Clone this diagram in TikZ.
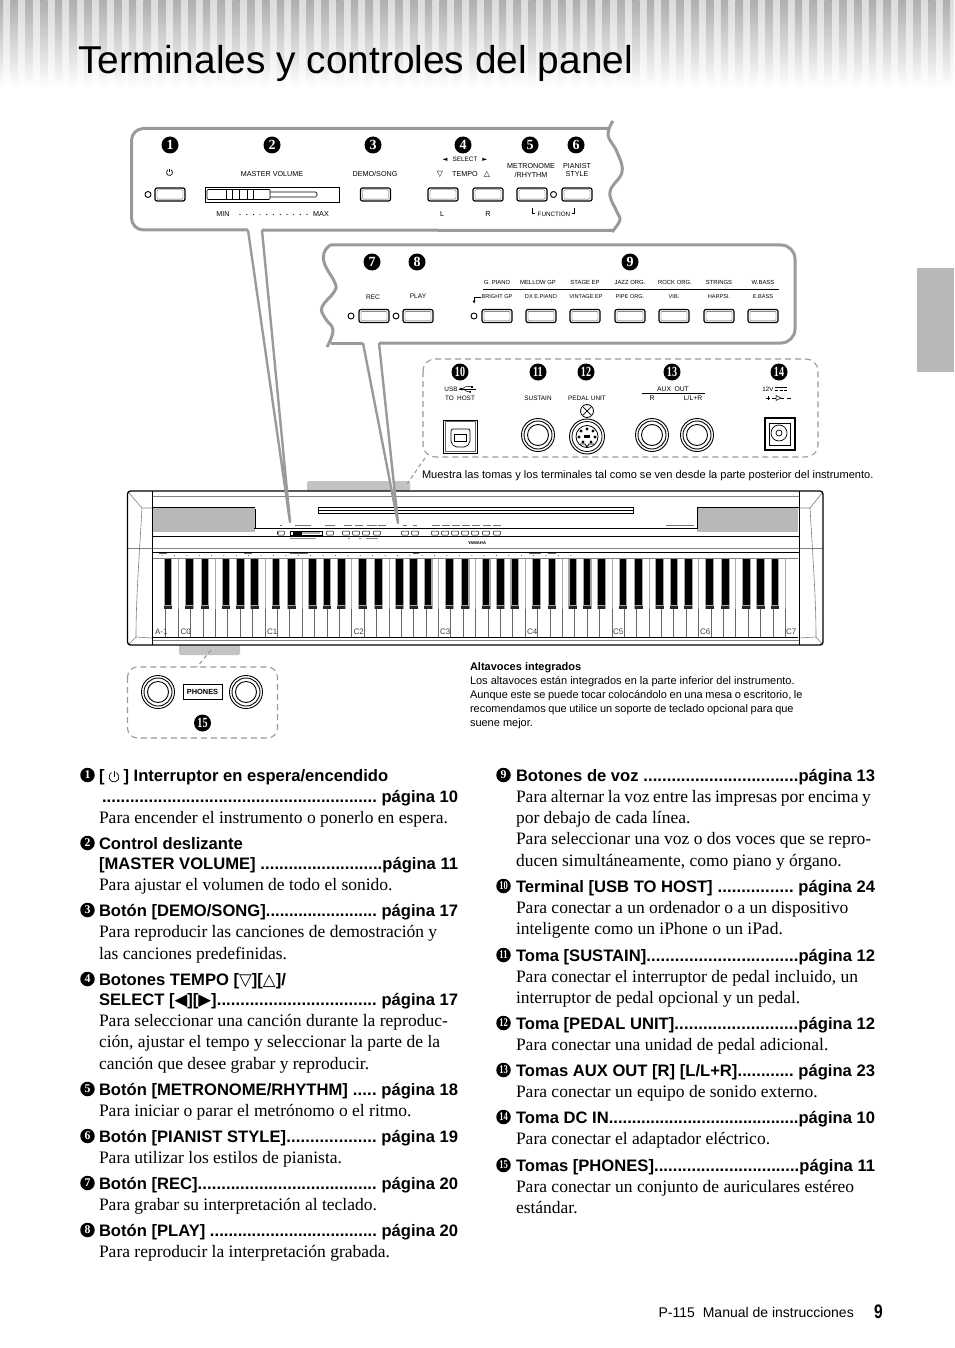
\documentclass[tikz,border=0pt]{standalone}
\usepackage{fontspec}
\setmainfont{Liberation Serif}
\setsansfont{Liberation Sans}
\newfontfamily\djv{DejaVu Sans}
\usetikzlibrary{calc}
\definecolor{stripeL}{HTML}{DCDCDC}
\definecolor{stripeD}{HTML}{AEAEAE}
\definecolor{panelgray}{HTML}{9A9A9A}
\definecolor{tabgray}{HTML}{B8B8B8}
\definecolor{keyline}{HTML}{AAAAAA}
\newcount\nn
\def\nx{\global\advance\nn by 1 }
\tikzset{
  txt/.style={inner sep=0pt,outer sep=0pt,anchor=base west,text=black},
  ctr/.style={inner sep=0pt,outer sep=0pt,anchor=center,text=black},
  panelline/.style={draw=panelgray,line width=3pt,line join=round},
  dashbox/.style={draw=panelgray,line width=1.1pt,dash pattern=on 6pt off 4pt},
  thinbk/.style={draw=black,line width=.7pt},
  pianoline/.style={draw=black,line width=.8pt},
  pianogray/.style={draw=gray,line width=.6pt},
  numdot/.style={circle,fill=black,text=white,inner sep=0pt,outer sep=0pt,font=\bfseries\rmfamily}
}
% texts
\newcommand{\Tt}[4]{\nx\node[txt] (t\the\nn) at (#1,{#2}) {\fontsize{#3}{#3}\selectfont #4};}
\newcommand{\Cc}[3]{\nx\node[ctr] (c\the\nn) at (#1,#2) {\sffamily\fontsize{7.2}{7.2}\selectfont #3};}
\newcommand{\Bd}[3]{\nx\node[txt] (b\the\nn) at (#1,{#2+6}) {\fontsize{17.5}{17.5}\selectfont #3};}
\newcommand{\Hn}[3]{\nx\node[txt] (h\the\nn) at (#1,{#2+6}) {\sffamily\bfseries\fontsize{16.6}{16.6}\selectfont #3};}
\newcommand{\Hd}[5]{\nx\node[txt] (h\the\nn) at (#1,{#3+6}) {\sffamily\bfseries\fontsize{16.6}{16.6}\selectfont\hbox to \dimexpr #2pt-#1pt\relax{#4\xleaders\hbox{.}\hfill#5}};}
\newcommand{\ND}[3]{\nx\node[numdot,minimum size=17pt] (n\the\nn) at (#1,#2) {\fontsize{14}{14}\selectfont #3};}
\newcommand{\NL}[3]{\nx\node[numdot,minimum size=14.5pt] (n\the\nn) at (#1,#2) {\fontsize{11.8}{11.8}\selectfont #3};}
\newcommand{\two}[1]{\scalebox{.72}[1]{#1}}
% shapes
\newcommand{\btn}[2]{%
  \draw[black,line width=1.2pt,rounded corners=2pt] ({#1-15},{#2-6.5}) rectangle ({#1+15},{#2+6.5});
  \draw[black!70,line width=.4pt,rounded corners=1pt] ({#1-13},{#2-4.7}) rectangle ({#1+13},{#2+4.7});}
\newcommand{\led}[2]{\draw[black,line width=.9pt,fill=white] (#1,#2) circle[radius=3pt];}
\newcommand{\jack}[2]{%
  \draw[black,line width=.9pt] (#1,#2) circle[radius=16.5pt];
  \draw[black,line width=.9pt] (#1,#2) circle[radius=14pt];
  \draw[black,line width=.9pt] (#1,#2) circle[radius=10.5pt];}
\newcommand{\pwr}[3]{%
  \draw[black,line width=.7pt] ({#1+.5*#3},{#2-.866*#3}) arc[start angle=60,end angle=-240,radius=#3 pt];
  \draw[black,line width=.7pt] (#1,{#2-1.2*#3}) -- (#1,{#2-.1*#3});}
\newcommand{\minibtn}[2]{\draw[black,line width=.5pt,rounded corners=.5pt] ({#1-3.3},531) rectangle ({#1+3.3},#2);}
\newcommand{\blackkey}[1]{%
  \fill[gray!70] ({#1-4.4},558) rectangle ({#1+4.4},609);
  \fill[black] ({#1-3.3},558) rectangle ({#1+3.3},604.5);
  \fill[black!85] ({#1-3.9},605.5) rectangle ({#1+3.9},609);}
\begin{document}
\begin{tikzpicture}[x=1pt,y=-1pt]
\useasboundingbox (0,0) rectangle (954,1348);
\fill[white] (0,0) rectangle (954,1348);
% header band
\shade[top color=stripeL,bottom color=white] (0,0) rectangle (954,88);
\foreach \i in {0,...,64}{
  \shade[top color=stripeD,bottom color=white] ({-4.3+14.8*\i},0) rectangle ({3+14.8*\i},88);
}
\Tt{78}{74}{38.85}{\sffamily Terminales y controles del panel}
% side tab
\fill[tabgray] (917,268) rectangle (954,372);
% tabs behind piano
\fill[tabgray!85,rounded corners=2pt] (307,492) -- (307,481) -- (410,481) -- (410,492) -- cycle;
\fill[tabgray!85,rounded corners=2pt] (179,644) -- (179,655) -- (240,655) -- (240,644) -- cycle;
% piano body
\fill[white] (127.5,491) rectangle (823,645);
\fill[tabgray] (153,508) rectangle (255,532);
\fill[tabgray] (697,508) rectangle (798,532);
% keys
\foreach \i in {1,...,51}{
  \draw[keyline,line width=.8pt] ({153.5+12.39*\i},558) -- ({153.5+12.39*\i},609);
  \draw[black!60,line width=.8pt] ({153.5+12.39*\i},609) -- ({153.5+12.39*\i},637);
}
\blackkey{168}
\foreach \o in {0,...,6}{\foreach \d in {10.99,26.68,47.66,61.95,76.34}{
  \blackkey{178.3+86.73*\o+\d}
}}
\draw[pianogray] (153,558) -- (798,558);
\draw[pianogray] (152,496) -- (799,496);
\draw[pianogray] (127.5,548) -- (823,548);
\draw[pianogray] (152,640) -- (799,640);
\draw[pianoline] (152,552) -- (799,552);
\draw[pianoline] (152,536) -- (799,536);
\draw[black,line width=1pt] (153,637) -- (798,637);
\draw[black,line width=1.6pt] (254,528.5) -- (697,528.5);
\draw[pianoline] (152,507) -- (255,507);
\draw[pianoline] (697,507) -- (799,507);
\draw[pianoline,fill=white] (318,507.5) rectangle (633,513);
\draw[black,line width=.5pt] (318,510) -- (633,510);
\draw[pianoline] (255,509) -- (255,529);
\draw[pianoline] (697,508) -- (697,529);
% cheeks
\draw[pianogray] (129,493) -- (142,508) -- (152,508);
\draw[pianogray] (142,508) .. controls (139,560) and (136,600) .. (136,637) -- (152,638);
\draw[pianogray] (136,637) -- (129,644);
\draw[pianogray] (822,493) -- (810,508) -- (799,508);
\draw[pianogray] (810,508) .. controls (813,560) and (816,600) .. (816,637) -- (799,638);
\draw[pianogray] (816,637) -- (822,644);
% outer frame
\draw[black,line width=1.3pt,rounded corners=3pt] (127.5,491) rectangle (823,645);
\draw[black,line width=.9pt] (152,491) -- (152,645);
\draw[black,line width=.9pt] (799,491) -- (799,645);
% mini panel
\minibtn{281}{535}\minibtn{330}{535}
\draw[black,line width=.4pt] (278,533) circle[radius=.7pt];
\draw[black,line width=.5pt] (290,531) rectangle (322,535);
\fill[black] (293,531.5) rectangle (302,534.5);
\fill[gray!60] (302,532) rectangle (320,534);
\foreach \p in {346,356,366,377,405,415,435,445,455,465,475,486,497}{\minibtn{\p}{535}}
\foreach \p/\w in {281/1,303/8,330/5,348/4,359/4,372/5,382/4,405/2,415/2,436/4,446/4,456/4,466/4,476/4,487/4,497/4,680/14}{
  \draw[black!55,line width=.9pt] ({\p-\w},525.5) -- ({\p+\w},525.5);
}
\foreach \p/\w in {303/13,349/1,360/1,372/6}{
  \draw[black!45,line width=.7pt] ({\p-\w},538) -- ({\p+\w},538);
}
\Tt{468}{544.5}{4.2}{\sffamily\bfseries YAMAHA}
\foreach \i in {0,...,33}{\fill[black!70] ({162+12.39*\i},555.5) circle[radius=.5pt];}
\foreach \p/\w in {163/4,248/4,299/9,416/3,535/6,552/4}{
  \draw[black!60,line width=.8pt] ({\p-\w},553.5) -- ({\p+\w},553.5);
}
% key labels
\foreach \p/\s in {155/A-1,180.5/C0,267/C1,353.5/C2,440/C3,527/C4,613/C5,700/C6,786/C7}{
  \nx\node[txt] (k\the\nn) at (\p,634) {\sffamily\fontsize{8}{8}\selectfont\color{black!75}\s};
}
% panel 1
\coordinate (p1a) at (248,230); \coordinate (p1b) at (262,230); \coordinate (tip1) at (290,522);
\coordinate (p2a) at (363,343); \coordinate (p2b) at (379,343); \coordinate (tip2) at (398,523);
\fill[white] (p1a) -- (tip1) -- (p1b) -- cycle;
\draw[panelgray,line width=2.4pt,line join=round] (p1a) -- (tip1) -- (p1b);
\fill[white] (p2a) -- (tip2) -- (p2b) -- cycle;
\draw[panelgray,line width=2.4pt,line join=round] (p2a) -- (tip2) -- (p2b);
\draw[panelline,rounded corners=12pt] (p1a) -- (131.5,230) -- (131.5,128.5) -- (610,128.5);
\draw[panelline] (p1b) -- (612,230.5);
\draw[panelline] plot[smooth,tension=.7] coordinates {(613,121)(608,135)(617,152)(622,172)(610,192)(617,212)(620,220)(612,232)};
\ND{170}{145}{1}\ND{272}{145}{2}\ND{373}{145}{3}\ND{463}{145}{4}\ND{530}{145}{5}\ND{576}{145}{6}
\pwr{169.5}{172.5}{3}
\Cc{272}{174}{MASTER VOLUME}
\Cc{375}{174}{DEMO/SONG}
\Cc{465}{159.5}{\fontsize{6.4}{6.4}\selectfont{\djv ◄}\hspace{5pt}SELECT\hspace{5pt}{\djv ►}}
\Cc{465}{174}{TEMPO}
\Cc{440}{174}{{\djv\fontsize{8}{8}\selectfont ▽}}
\Cc{487}{174}{{\djv\fontsize{8}{8}\selectfont △}}
\Cc{531}{166}{METRONOME}
\Cc{531}{174.5}{/RHYTHM}
\Cc{577}{166}{PIANIST}
\Cc{577}{174.5}{STYLE}
\btn{170}{194.5}\led{148}{194.5}
\draw[black,line width=.9pt] (205,187) rectangle (339,202);
\draw[black,line width=.7pt,rounded corners=1pt] (207,189.5) rectangle (270,199.5);
\draw[black,line width=.7pt,rounded corners=1.5pt] (270,192) -- (317,192) -- (317,197) -- (270,197);
\foreach \p in {226,232,239,247,253}{\draw[black,line width=.6pt] (\p,189.5) -- (\p,199.5);}
\btn{375.5}{194.5}\btn{443}{194.5}\btn{488}{194.5}\btn{532}{194.5}\btn{577}{194.5}\led{553.5}{194.5}
\Cc{223}{214.5}{MIN}\Cc{321}{214.5}{MAX}
\foreach \i in {0,...,10}{\fill[black] ({240+6.7*\i},214.5) circle[radius=.6pt];}
\Cc{442}{214.5}{L}\Cc{488}{214.5}{R}
\Cc{554}{214.5}{\fontsize{6.3}{6.3}\selectfont FUNCTION}
\draw[black,line width=.5pt] (532,208) -- (532,213.5) -- (535,213.5);
\draw[black,line width=.5pt] (574.5,208) -- (574.5,213.5) -- (571.5,213.5);
% panel 2
\draw[panelline,rounded corners=14pt] (p2b) -- (795,343) -- (795,245) -- (330,245);
\draw[panelline] (p2a) -- (331,343);
\draw[panelline] plot[smooth,tension=.7] coordinates {(330,245)(324,253)(325,265)(335,283)(334,292)(322,307)(325,318)(333,330)(327,347)};
\ND{372}{262}{7}\ND{417}{262}{8}\ND{630}{262}{9}
\foreach \p/\s in {497/G. PIANO,538/MELLOW GP,585/STAGE EP,630/JAZZ ORG.,675/ROCK ORG.,719/STRINGS,763/W.BASS}{
  \nx\node[ctr] (v\the\nn) at (\p,282) {\sffamily\fontsize{5.9}{5.9}\selectfont\s};
}
\draw[black,line width=.6pt] (483,289) -- (779,289);
\foreach \p/\s in {497/BRIGHT GP,541/DX E.PIANO,586/VINTAGE EP,630/PIPE ORG.,674/VIB.,719/HARPSI.,763/E.BASS}{
  \nx\node[ctr] (v\the\nn) at (\p,297) {\sffamily\fontsize{5.6}{5.6}\selectfont\s};
}
\Cc{373}{297}{\fontsize{6.6}{6.6}\selectfont REC}\Cc{418}{296.5}{\fontsize{6.6}{6.6}\selectfont PLAY}
\coordinate (ar1) at (481,297); \coordinate (ar2) at (474,297); \coordinate (ar3) at (474,301);
\draw[black,line width=.5pt] (ar1) -- (ar2) -- (ar3);
\fill[black] (472.5,300.5) -- (475.5,300.5) -- (474,303.5) -- cycle;
\foreach \p in {374,418,497,541,585,630,674,719,763}{\btn{\p}{316}}
\led{351}{316}\led{396}{316}\led{474}{316}
% panel 3
\draw[dashbox,rounded corners=12pt] (423,359) rectangle (818,457);
\coordinate (d1a) at (425,458); \coordinate (d1b) at (407,484);
\draw[dashbox,dash pattern=on 4pt off 3pt] (d1a) -- (d1b);
\ND{460}{372}{\two{10}}\ND{538}{372}{\two{11}}\ND{586}{372}{\two{12}}\ND{672}{372}{\two{13}}\ND{779}{372}{\two{14}}
\Cc{451}{389}{\fontsize{6.4}{6.4}\selectfont USB}
\draw[black,line width=.5pt] (459,389) -- (476,389);
\draw[black,line width=.5pt] (462,389) -- (466,386.5) -- (472,386.5);
\draw[black,line width=.5pt] (463,389) -- (467,391.5) -- (471,391.5);
\fill[black] (459,389) -- (462,387.5) -- (462,390.5) -- cycle;
\fill[black] (471,385.5) rectangle (473,387.5);
\fill[black] (470,392) circle[radius=1pt];
\Cc{460}{398}{\fontsize{6.4}{6.4}\selectfont TO\hspace{1.5pt} HOST}
\Cc{538}{398}{\fontsize{6.4}{6.4}\selectfont SUSTAIN}
\Cc{587}{398}{\fontsize{6.4}{6.4}\selectfont PEDAL UNIT}
\Cc{673}{389}{\fontsize{6.8}{6.8}\selectfont AUX\hspace{1.5pt} OUT}
\draw[black,line width=.6pt] (642,393) -- (705,393);
\Cc{652}{398.5}{\fontsize{6.8}{6.8}\selectfont R}
\Cc{693}{398.5}{\fontsize{6.8}{6.8}\selectfont L/L+R}
\Cc{768}{389}{\fontsize{6.2}{6.2}\selectfont 12V}
\draw[black,line width=.6pt] (775,387.5) -- (787,387.5);
\draw[black,line width=.6pt,dash pattern=on 3pt off 1.5pt] (775,390) -- (787,390);
\draw[black,line width=.5pt] (766,398) -- (770,398) (768,396) -- (768,400);
\draw[black,line width=.5pt] (772,398) -- (776,398) (781,398) -- (784,398) (787,398) -- (791,398);
\draw[black,line width=.5pt] (776,395.5) -- (781,398) -- (776,400.5) -- cycle;
\draw[black,line width=.9pt] (443.5,420) rectangle (477,453);
\draw[black!60,line width=.5pt] (445,421.5) rectangle (475.5,451.5);
\draw[black,line width=.7pt,rounded corners=2pt] (451,429) -- (470,429) -- (470,443) -- (466,447) -- (455,447) -- (451,443) -- cycle;
\draw[black,line width=.7pt] (454,434) rectangle (466,441);
\jack{538}{435}\jack{652}{435}\jack{697}{435}
% pedal unit
\draw[black,line width=.8pt] (587,411) circle[radius=6.5pt];
\draw[black,line width=.7pt] (583,407) -- (591,415) (591,407) -- (583,415);
\draw[black,line width=.9pt,fill=white] (587,436.5) circle[radius=17.5pt];
\draw[black,line width=.8pt] (587,436.5) circle[radius=15pt];
\draw[black,line width=.8pt] (587,436.5) circle[radius=11pt];
\foreach \a/\b in {581/431,587/429,593/431,579/437,595/437,583/442,591/442}{\fill[black] (\a,\b) circle[radius=1.7pt];}
\draw[black,line width=.9pt] (580,444) -- (585,444) -- (587,447) -- (589,444) -- (594,444);
\fill[black] (584,435) rectangle (590,438);
% DC
\draw[black,line width=1.2pt] (765,418) rectangle (795,450);
\draw[black,line width=.7pt] (769.5,423) rectangle (790,445);
\draw[black,line width=.7pt] (779,433) circle[radius=8pt];
\draw[black,line width=.7pt] (779,433) circle[radius=3pt];
\Tt{422}{478.5}{11.05}{\sffamily Muestra las tomas y los terminales tal como se ven desde la parte posterior del instrumento.}
% phones
\draw[dashbox,rounded corners=10pt] (127.5,667) rectangle (277.5,738);
\coordinate (d2a) at (211,650); \coordinate (d2b) at (197,667);
\draw[dashbox,dash pattern=on 4pt off 3pt] (d2a) -- (d2b);
\jack{158}{692}\jack{246}{692}
\draw[black,line width=.7pt] (183,684.5) rectangle (222,699.5);
\Cc{202.5}{692}{\fontsize{7.4}{7.4}\selectfont\bfseries PHONES}
\ND{202.5}{723}{\two{15}}
% altavoces
\Tt{470}{670.5}{11}{\sffamily\bfseries Altavoces integrados}
\Tt{470}{684}{11}{\sffamily Los altavoces están integrados en la parte inferior del instrumento.}
\Tt{470}{698}{11}{\sffamily\spaceskip=2.6pt Aunque este se puede tocar colocándolo en una mesa o escritorio, le}
\Tt{470}{712}{11}{\sffamily\spaceskip=2.6pt recomendamos que utilice un soporte de teclado opcional para que}
\Tt{470}{726}{11}{\sffamily suene mejor.}
% left column
\NL{87.5}{775}{1}\Hn{99}{775}{[\hspace{19pt}] Interruptor en espera/encendido}
\pwr{114}{777}{5}
\Hd{102}{458}{796}{}{ página 10}
\Bd{99}{817}{Para encender el instrumento o ponerlo en espera.}
\NL{87.5}{843}{2}\Hn{99}{843}{Control deslizante}
\Hd{99}{458}{863}{[MASTER VOLUME] }{página 11}
\Bd{99}{884}{Para ajustar el volumen de todo el sonido.}
\NL{87.5}{910}{3}\Hd{99}{458}{910}{Botón [DEMO/SONG]}{ página 17}
\Bd{99}{931}{Para reproducir las canciones de demostración y}
\Bd{99}{953}{las canciones predefinidas.}
\NL{87.5}{979}{4}\Hn{99}{979}{Botones TEMPO [{\djv\mdseries ▽}][{\djv\mdseries △}]/}
\Hd{99}{458}{999}{SELECT [{\djv\mdseries ◀}][{\djv\mdseries ▶}]}{ página 17}
\Bd{99}{1020}{Para seleccionar una canción durante la reproduc-}
\Bd{99}{1041}{ción, ajustar el tempo y seleccionar la parte de la}
\Bd{99}{1063}{canción que desee grabar y reproducir.}
\NL{87.5}{1089}{5}\Hd{99}{458}{1089}{Botón [METRONOME/RHYTHM] }{ página 18}
\Bd{99}{1110}{Para iniciar o parar el metrónomo o el ritmo.}
\NL{87.5}{1136}{6}\Hd{99}{458}{1136}{Botón [PIANIST STYLE]}{ página 19}
\Bd{99}{1157}{Para utilizar los estilos de pianista.}
\NL{87.5}{1183}{7}\Hd{99}{458}{1183}{Botón [REC]}{ página 20}
\Bd{99}{1204}{Para grabar su interpretación al teclado.}
\NL{87.5}{1230}{8}\Hd{99}{458}{1230}{Botón [PLAY] }{ página 20}
\Bd{99}{1251}{Para reproducir la interpretación grabada.}
% right column
\NL{503.5}{775}{9}\Hd{516}{875}{775}{Botones de voz }{página 13}
\Bd{516}{796}{\spaceskip=3.7pt Para alternar la voz entre las impresas por encima y}
\Bd{516}{817}{por debajo de cada línea.}
\Bd{516}{838}{Para seleccionar una voz o dos voces que se repro-}
\Bd{516}{860}{ducen simultáneamente, como piano y órgano.}
\NL{503.5}{886}{\two{10}}\Hd{516}{875}{886}{Terminal [USB TO HOST] }{ página 24}
\Bd{516}{907}{Para conectar a un ordenador o a un dispositivo}
\Bd{516}{928}{inteligente como un iPhone o un iPad.}
\NL{503.5}{955}{\two{11}}\Hd{516}{875}{955}{Toma [SUSTAIN]}{página 12}
\Bd{516}{976}{Para conectar el interruptor de pedal incluido, un}
\Bd{516}{997}{interruptor de pedal opcional y un pedal.}
\NL{503.5}{1023}{\two{12}}\Hd{516}{875}{1023}{Toma [PEDAL UNIT]}{página 12}
\Bd{516}{1044}{Para conectar una unidad de pedal adicional.}
\NL{503.5}{1070}{\two{13}}\Hd{516}{875}{1070}{Tomas AUX OUT [R] [L/L+R]}{ página 23}
\Bd{516}{1091}{Para conectar un equipo de sonido externo.}
\NL{503.5}{1117}{\two{14}}\Hd{516}{875}{1117}{Toma DC IN}{página 10}
\Bd{516}{1138}{Para conectar el adaptador eléctrico.}
\NL{503.5}{1165}{\two{15}}\Hd{516}{875}{1165}{Tomas [PHONES]}{página 11}
\Bd{516}{1186}{Para conectar un conjunto de auriculares estéreo}
\Bd{516}{1207}{estándar.}
% footer
\nx\node[inner sep=0pt,anchor=base east] (foot) at (854,1317) {\sffamily\fontsize{14}{14}\selectfont P-115\hspace{8pt}Manual de instrucciones};
\nx\node[inner sep=0pt,anchor=base] (pg) at (878.5,1318) {\sffamily\bfseries\fontsize{19.5}{19.5}\selectfont\scalebox{.8}[1]{9}};
\end{tikzpicture}
\end{document}
